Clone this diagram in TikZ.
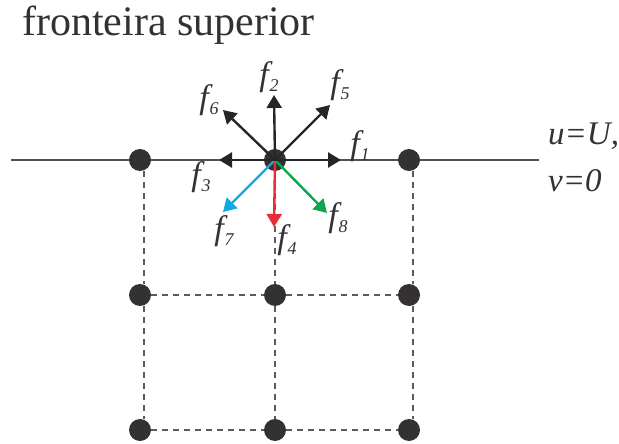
\documentclass[tikz,border=0pt]{standalone}
\usepackage{fontspec}
\setmainfont{Liberation Serif}
\usepackage{xcolor}
\usetikzlibrary{arrows.meta}
\definecolor{latdark}{HTML}{333132}
\definecolor{latblue}{HTML}{11A9E6}
\definecolor{latred}{HTML}{EC2B36}
\definecolor{latgreen}{HTML}{0DA650}
\tikzset{
  latnode/.style={circle,fill=latdark,minimum size=22pt,inner sep=0pt},
  wall/.style={draw=latdark!85,line width=1.1pt},
  link/.style={draw=latdark!80,line width=1.1pt,dash pattern=on 6pt off 5pt},
  vec/.style={-{Triangle[length=13pt,width=15pt]},line width=2.4pt},
  flabel/.style={font=\fontsize{34}{34}\selectfont\itshape,text=latdark,inner sep=0pt},
  bclabel/.style={anchor=west,font=\fontsize{33}{33}\selectfont\itshape,text=latdark,inner sep=0pt}
}
\newcommand{\fsub}[1]{f\raisebox{-6pt}{\kern1pt\fontsize{18}{18}\selectfont #1}}
\begin{document}
\begin{tikzpicture}[x=1pt,y=-1pt]
  \useasboundingbox (0,0) rectangle (619,444);
  % grid
  \coordinate (wallleft) at (11,160);
  \coordinate (wallright) at (539,160);
  \draw[wall] (wallleft) -- (wallright);
  \coordinate (top) at (275,160);
  \coordinate (vtipone) at (341,160);
  \coordinate (vtiptwo) at (274,95);
  \coordinate (vtipthree) at (219,160);
  \coordinate (vtipfour) at (274,227);
  \coordinate (vtipfive) at (330,105);
  \coordinate (vtipsix) at (223,110);
  \coordinate (vtipseven) at (223,212);
  \coordinate (vtipeight) at (327,213);
  \node[latnode] (n11) at (140,160) {};
  \node[latnode] (n12) at (275,160) {};
  \node[latnode] (n13) at (409,160) {};
  \node[latnode] (n21) at (140,295) {};
  \node[latnode] (n22) at (275,295) {};
  \node[latnode] (n23) at (409,295) {};
  \node[latnode] (n31) at (140,430) {};
  \node[latnode] (n32) at (275,430) {};
  \node[latnode] (n33) at (409,430) {};
  \draw[link] ([xshift=4pt]n11.south) -- ([xshift=4pt]n21.north);
  \draw[link] ([xshift=4pt]n21.south) -- ([xshift=4pt]n31.north);
  \draw[link] (n12.south) -- (n22.north);
  \draw[link] (n22.south) -- (n32.north);
  \draw[link] ([xshift=4pt]n13.south) -- ([xshift=4pt]n23.north);
  \draw[link] ([xshift=4pt]n23.south) -- ([xshift=4pt]n33.north);
  \draw[link] (n21.east) -- (n22.west);
  \draw[link] (n22.east) -- (n23.west);
  \draw[link] (n31.east) -- (n32.west);
  \draw[link] (n32.east) -- (n33.west);
  % velocities
  \draw[vec,color=latblue] (top) -- (vtipseven);
  \draw[vec,color=latred] (top) -- (vtipfour);
  \draw[vec,color=latgreen] (top) -- (vtipeight);
  \draw[vec,color=black!85] (top) -- (vtipone);
  \draw[vec,color=black!85] (top) -- (vtiptwo);
  \draw[vec,color=black!85] (top) -- (vtipthree);
  \draw[vec,color=black!85] (top) -- (vtipfive);
  \draw[vec,color=black!85] (top) -- (vtipsix);
  % labels
  \node[anchor=west,inner sep=0pt,text=latdark,font=\fontsize{42}{42}\selectfont] (title) at (22,25) {fronteira superior};
  \node[flabel] (f1) at (360,146) {\fsub{1}};
  \node[flabel] (f2) at (269,77) {\fsub{2}};
  \node[flabel] (f3) at (201,177) {\fsub{3}};
  \node[flabel] (f4) at (287,240) {\fsub{4}};
  \node[flabel] (f5) at (340,85) {\fsub{5}};
  \node[flabel] (f6) at (209,100) {\fsub{6}};
  \node[flabel] (f7) at (224,231) {\fsub{7}};
  \node[flabel] (f8) at (338,218) {\fsub{8}};
  \node[bclabel] (ubc) at (548,136) {u=U,};
  \node[bclabel] (vbc) at (548,181) {v=0};
\end{tikzpicture}
\end{document}
